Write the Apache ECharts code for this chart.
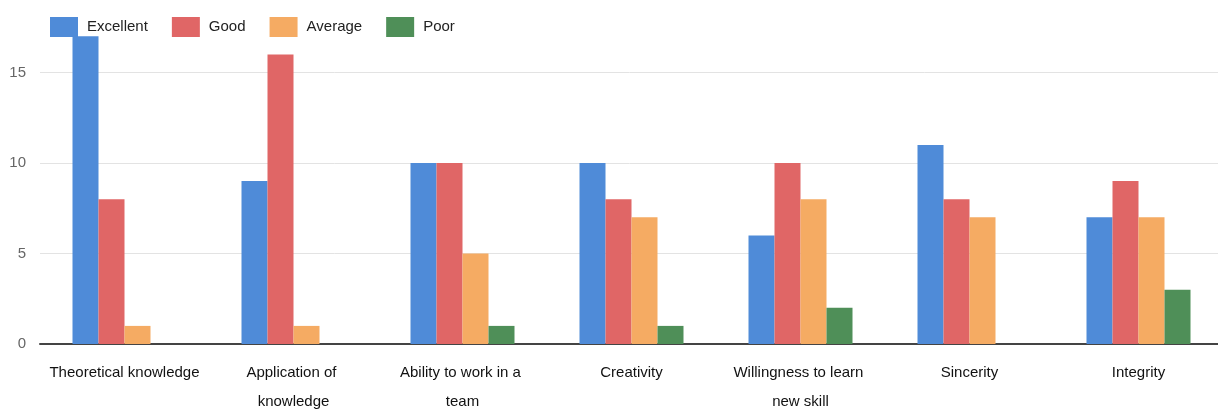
<!DOCTYPE html>
<html>
<head>
<meta charset="utf-8">
<script src="https://cdn.jsdelivr.net/npm/echarts@6/dist/echarts.min.js"></script>
<style>
  html, body { margin: 0; padding: 0; background: #fff; }
  #chart { width: 1218px; height: 414px; }
</style>
</head>
<body>
<div id="chart"></div>
<script>
const categories = [
  'Theoretical knowledge',
  'Application of knowledge',
  'Ability to work in a team',
  'Creativity',
  'Willingness to learn new skill',
  'Sincerity',
  'Integrity'
];
const seriesNames = ['Excellent', 'Good', 'Average', 'Poor'];
const excellent = [17, 9, 10, 10, 6, 11, 7];
const good      = [8, 16, 10, 8, 10, 8, 9];
const average   = [1, 1, 5, 7, 8, 7, 7];
const poor      = [0, 0, 1, 1, 2, 0, 3];
const yTicks = [0, 5, 10, 15, 20];
const colors = ['#4f8bd8', '#e06666', '#f5ab63', '#4f8f58'];

const values = [excellent, good, average, poor];
const chart = echarts.init(document.getElementById('chart'), null, { renderer: 'canvas' });
chart.setOption({
  animation: false,
  color: colors,
  legend: {
    left: 45,
    top: 12,
    itemWidth: 28,
    itemHeight: 20,
    itemGap: 24,
    icon: 'rect',
    textStyle: {
      fontFamily: 'Liberation Sans',
      fontSize: 15,
      color: '#222',
      padding: [0, 0, 0, 4]
    },
    data: seriesNames
  },
  grid: {
    left: 40,
    width: 1183,
    top: -18,
    bottom: 70,
    containLabel: false,
    outerBoundsMode: 'none'
  },
  xAxis: {
    type: 'category',
    data: categories,
    axisLine: { show: true, lineStyle: { color: '#444', width: 2 } },
    axisTick: { show: false },
    axisLabel: {
      interval: 0,
      margin: 14,
      fontFamily: 'Liberation Sans',
      fontSize: 15,
      color: '#111',
      lineHeight: 29,
      width: 152,
      overflow: 'break'
    }
  },
  yAxis: {
    type: 'value',
    min: yTicks[0],
    max: yTicks[yTicks.length - 1],
    interval: 5,
    axisLine: { show: false },
    axisTick: { show: false },
    axisLabel: {
      margin: 14,
      fontFamily: 'Liberation Sans',
      fontSize: 15,
      color: '#666'
    },
    splitLine: { lineStyle: { color: '#e3e3e3', width: 1 } }
  },
  series: seriesNames.map((name, i) => ({
    name: name,
    type: 'bar',
    data: values[i],
    barWidth: 26,
    barGap: '0%',
    itemStyle: { color: colors[i] }
  }))
});
</script>
</body>
</html>
